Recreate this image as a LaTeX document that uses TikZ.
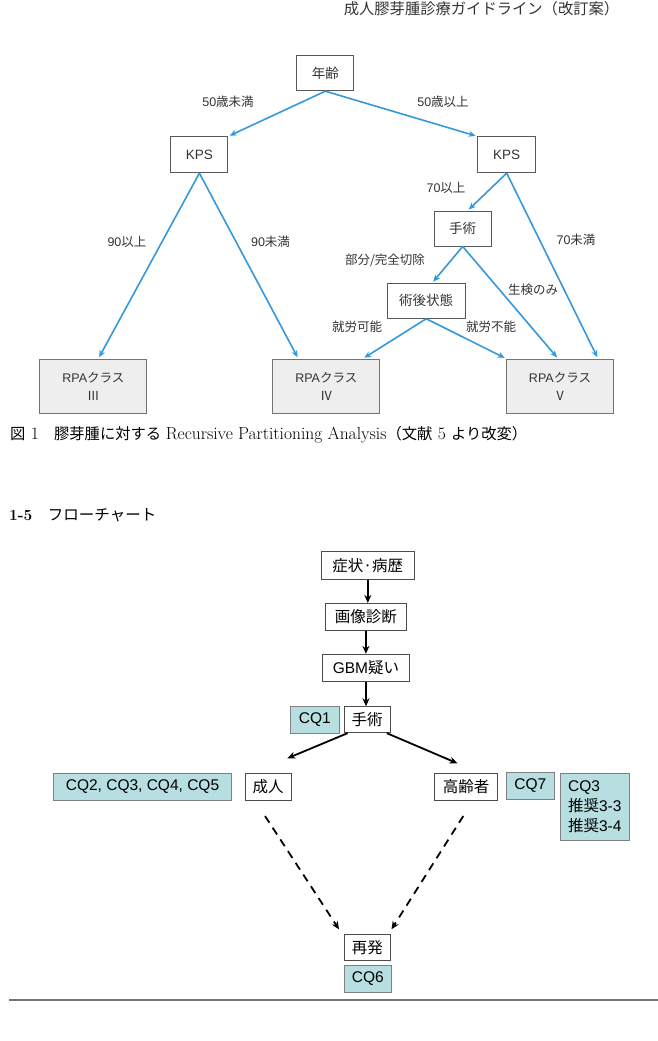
\documentclass[tikz,border=0pt]{standalone}
\usepackage{fontspec}
\setsansfont{Liberation Sans}
\newfontfamily\cjk{Noto Sans CJK JP}
\usetikzlibrary{arrows.meta}
\definecolor{bluearrow}{RGB}{52,152,219}
\definecolor{cqfill}{RGB}{183,222,224}
\definecolor{rpafill}{RGB}{238,238,238}
\definecolor{txtgray}{RGB}{51,51,51}
\newcommand{\J}[1]{{\cjk #1}}
\newcommand{\Lat}[1]{{\fontsize{17.5}{18}\selectfont\addfontfeatures{LetterSpace=9}#1}}
\begin{document}
\begin{tikzpicture}[x=1pt,y=-1pt,
  tbox/.style={draw=black!65, line width=0.9pt, fill=white, inner sep=0pt, font=\sffamily\fontsize{13.5}{15}\selectfont, text=txtgray},
  rpabox/.style={draw=black!55, line width=1pt, fill=rpafill, minimum width=107pt, minimum height=54.3pt, inner sep=0pt, align=center, font=\sffamily\fontsize{12.5}{18}\selectfont, text=txtgray},
  blab/.style={font=\sffamily\fontsize{12.5}{14}\selectfont, text=txtgray, inner sep=0pt},
  barrow/.style={draw=bluearrow, line width=1.6pt, -{Stealth[length=7pt,width=6pt]}, shorten >=1.5pt},
  fbox/.style={draw=black!70, line width=0.9pt, fill=white, inner sep=0pt, font=\sffamily\fontsize{15.5}{18}\selectfont},
  cqbox/.style={draw=black!50, line width=0.9pt, fill=cqfill, inner sep=0pt, font=\sffamily\fontsize{15.5}{20}\selectfont},
  karrow/.style={draw=black, line width=1.8pt, -{Stealth[length=8pt,width=7pt]}},
  darrow/.style={karrow, dash pattern=on 8pt off 6pt},
  ptext/.style={inner sep=0pt, text=txtgray}
]
\path[use as bounding box] (0,0) rectangle (658,1041);

% header
\node[ptext, font=\fontsize{15.3}{17}\selectfont] (header) at (481.5,9) {\J{成人膠芽腫診療ガイドライン（改訂案）}};

% ---- RPA tree ----
\node[tbox, minimum width=57pt, minimum height=35.7pt] (age) at (325.3,72.9) {\J{年齢}};
\node[tbox, minimum width=57pt, minimum height=36pt] (kpsL) at (199.4,154.7) {KPS};
\node[tbox, minimum width=58.4pt, minimum height=36pt] (kpsR) at (506.7,154.7) {KPS};
\node[tbox, minimum width=56.7pt, minimum height=35pt] (surgA) at (462.7,228.5) {\J{手術}};
\node[tbox, minimum width=77.7pt, minimum height=35pt] (post) at (426.2,300.8) {\J{術後状態}};
\node[rpabox] (rpa3) at (93.4,386.2) {RPA\J{クラス}\\\J{Ⅲ}};
\node[rpabox] (rpa4) at (326.3,386.2) {RPA\J{クラス}\\\J{Ⅳ}};
\node[rpabox] (rpa5) at (560,386.2) {RPA\J{クラス}\\\J{Ⅴ}};

\draw[barrow] (age.south) -- (kpsL.north east);
\draw[barrow] (age.south) -- (kpsR.north west);
\draw[barrow] (kpsL.south) -- ([xshift=5pt]rpa3.north);
\draw[barrow] (kpsL.south) -- ([xshift=-28pt]rpa4.north);
\draw[barrow] (kpsR.south) -- ([xshift=5pt]surgA.north);
\draw[barrow] (kpsR.south) -- ([xshift=38pt]rpa5.north);
\draw[barrow] (surgA.south) -- ([xshift=6pt]post.north);
\draw[barrow] (surgA.south) -- ([xshift=-2pt]rpa5.north);
\draw[barrow] (post.south) -- ([xshift=36.7pt]rpa4.north);
\draw[barrow] (post.south) -- (rpa5.north west);

\node[blab] (l1) at (228,101.7) {50\J{歳未満}};
\node[blab] (l2) at (443,101.7) {50\J{歳以上}};
\node[blab] (l3) at (446,188.3) {70\J{以上}};
\node[blab] (l4) at (127,241.7) {90\J{以上}};
\node[blab] (l5) at (270.5,241.7) {90\J{未満}};
\node[blab] (l6) at (576,240) {70\J{未満}};
\node[blab] (l7) at (385,260) {\J{部分/完全切除}};
\node[blab] (l8) at (533,290) {\J{生検のみ}};
\node[blab] (l9) at (357,326.7) {\J{就労可能}};
\node[blab] (l10) at (491,326.7) {\J{就労不能}};

% caption
\node[inner sep=0pt, anchor=west, font=\fontsize{15.3}{17}\selectfont] (cap) at (10,435) {\J{図}\Lat{~1}\J{　膠芽腫に対する} \Lat{Recursive Partitioning Analysis}\J{（文献}\Lat{~5~}\J{より改変）}};

% section title
\node[inner sep=0pt, anchor=west, font=\fontsize{15.5}{17}\selectfont] (sec) at (9,515) {{\bfseries 1-5}\J{　フローチャート}};

% ---- flowchart ----
\node[fbox, minimum width=93.6pt, minimum height=27.3pt] (symp) at (367.8,565.4) {\J{症状·病歴}};
\node[fbox, minimum width=80.6pt, minimum height=26.7pt] (img) at (365.9,616.7) {\J{画像診断}};
\node[fbox, minimum width=87.3pt, minimum height=27.4pt] (gbm) at (366,668) {GBM\J{疑い}};
\node[cqbox, minimum width=48.2pt, minimum height=26.6pt] (cq1) at (314.9,720) {CQ1};
\node[fbox, minimum width=46.3pt, minimum height=26pt] (surgB) at (367.2,719.7) {\J{手術}};
\node[cqbox, minimum width=177.5pt, minimum height=27.4pt] (cq2) at (142.5,787) {CQ2, CQ3, CQ4, CQ5};
\node[fbox, minimum width=46pt, minimum height=27.4pt] (adult) at (268,787) {\J{成人}};
\node[fbox, minimum width=63.4pt, minimum height=27.4pt] (elder) at (466,787) {\J{高齢者}};
\node[cqbox, minimum width=47.8pt, minimum height=26.6pt] (cq7) at (530.4,786) {CQ7};
\node[cqbox, minimum width=69.5pt, minimum height=66.7pt, align=left] (cq3) at (594.8,806.7) {CQ3\\\J{推奨}3-3\\\J{推奨}3-4};
\node[fbox, minimum width=46.7pt, minimum height=26.7pt] (relapse) at (367.3,947.3) {\J{再発}};
\node[cqbox, minimum width=47.5pt, minimum height=26.6pt] (cq6) at (367.8,979) {CQ6};

\coordinate (aEnd) at (287.4,758.3);
\coordinate (eEnd) at (457.4,763.3);
\coordinate (aStart) at (265,816);
\coordinate (eStart) at (463.3,816);
\coordinate (rL) at (339,929.3);
\coordinate (rR) at (391.5,929.3);

\draw[karrow] (symp.south) -- (symp.south |- img.north);
\draw[karrow] (img.south) -- (img.south |- gbm.north);
\draw[karrow] (gbm.south) -- (gbm.south |- surgB.north);
\draw[karrow] ([xshift=4pt]surgB.south west) -- (aEnd);
\draw[karrow] ([xshift=-4pt]surgB.south east) -- (eEnd);
\draw[darrow] (aStart) -- (rL);
\draw[darrow] (eStart) -- (rR);

% bottom rule
\coordinate (ruleL) at (9,1000);
\coordinate (ruleR) at (658,1000);
\draw[black!55, line width=1.5pt] (ruleL) -- (ruleR);
\end{tikzpicture}
\end{document}
